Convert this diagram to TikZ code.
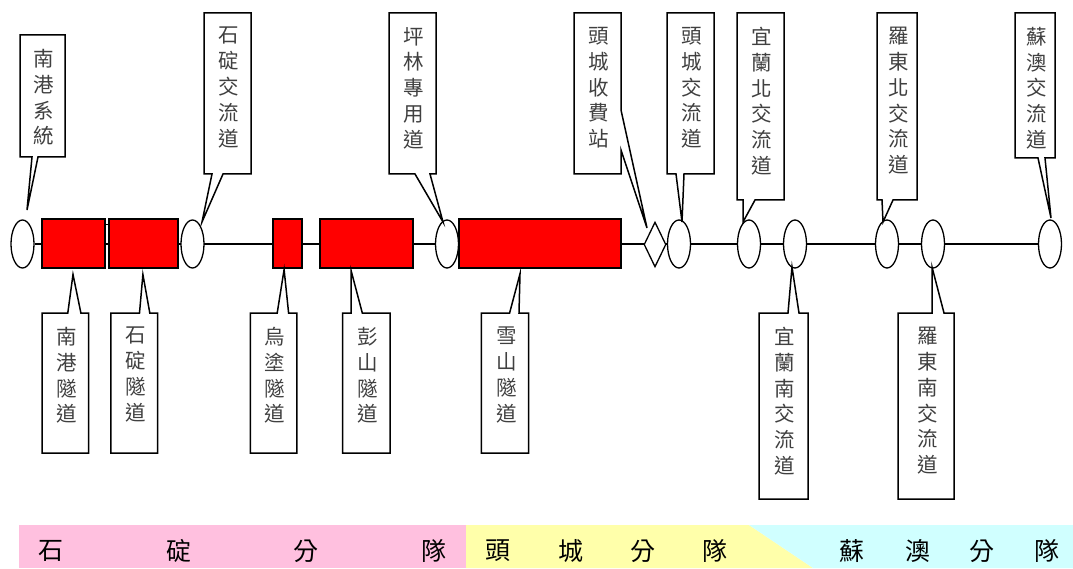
\documentclass[tikz,border=0pt]{standalone}
\usepackage{fontspec}
\newfontfamily\cjk{Noto Sans CJK TC}
\usetikzlibrary{shapes.geometric,backgrounds,calc}
\definecolor{bandpink}{HTML}{FFC0DF}
\definecolor{bandyellow}{HTML}{FFFFAA}
\definecolor{bandcyan}{HTML}{D0FFFF}
\definecolor{calltxt}{HTML}{404040}
\begin{document}
\begin{tikzpicture}[x=1pt,y=-1pt,
  tunnel/.style={draw=black,fill=red,line width=1.3pt,inner sep=0,minimum height=49pt},
  junction/.style={ellipse,draw=black,fill=white,line width=1.3pt,inner sep=0,minimum width=23pt,minimum height=48pt},
  toll/.style={diamond,draw=black,fill=white,line width=1.3pt,inner sep=0,minimum width=22pt,minimum height=45pt},
  callout/.style={draw=black,fill=white,line width=1.5pt,line join=miter},
  calltext/.style={font=\cjk\fontsize{20.5}{25.8}\selectfont,text=calltxt,align=center,inner sep=0,anchor=north},
  bandtext/.style={font=\cjk\fontsize{25}{30}\selectfont,text=black,inner sep=0}]
\useasboundingbox (0,0) rectangle (1073,569);

% tunnels
\node[tunnel,minimum width=63pt]  (b1) at (73.5,243.5) {};
\node[tunnel,minimum width=69pt]  (b2) at (143.5,243.5) {};
\node[tunnel,minimum width=29pt]  (b3) at (287.5,243.5) {};
\node[tunnel,minimum width=93pt]  (b4) at (366.5,243.5) {};
\node[tunnel,minimum width=162pt] (b5) at (540,243.5) {};
\draw[line width=1pt] ($(b1.north east)+(0,6)$) -- ($(b2.north west)+(0,6)$);

% junctions
\foreach \n/\x in {e1/22.5,e2/192.5,e3/447,e4/679,e5/749,e6/795,e7/887,e8/933,e9/1050}
  \node[junction] (\n) at (\x,244) {};
\node[toll] (d1) at (655,244.5) {};

\begin{scope}[on background layer]
  \draw[line width=1.2pt] (e1.east) -- (e9.west);
\end{scope}

% top callouts
\foreach \n/\xa/\xb/\ya/\yb/\ba/\bb/\tx/\ty/\t in {
  t1/20/65/35/157/32/38/27/210/{南\\港\\系\\統},
  t2/204/251/13/174/212/223/202/222/{石\\碇\\交\\流\\道},
  t3/389/436/13/174/415/430/443/222/{坪\\林\\專\\用\\道},
  t5/667/714/13/174/676/684/682/222/{頭\\城\\交\\流\\道},
  t6/737/784/13/200/743/755/743/222/{宜\\蘭\\北\\交\\流\\道},
  t7/877/917/13/200/882/893/883/222/{羅\\東\\北\\交\\流\\道},
  t8/1015/1055/13/158/1038/1045/1051/218/{蘇\\澳\\交\\流\\道}}
{
  \draw[callout] (\xa,\ya) -- (\xb,\ya) -- (\xb,\yb) -- (\bb,\yb) -- (\tx,\ty) -- (\ba,\yb) -- (\xa,\yb) -- cycle;
  \node[calltext] (\n) at ({(\xa+\xb)/2+1.5},{\ya+14}) {\t};
}
% toll plaza callout
\draw[callout] (574,13) -- (621,13) -- (621,110) -- (647,228) -- (621,150) -- (621,174) -- (574,174) -- cycle;
\node[calltext] (t4) at (599,27) {頭\\城\\收\\費\\站};

% bottom callouts
\foreach \n/\xa/\xb/\ya/\yb/\ba/\bb/\tx/\ty/\t in {
  u1/42/88.5/313/453/67.8/80.9/73/274.5/{南\\港\\隧\\道},
  u2/110.9/157.7/313/453/139.5/149.8/142.9/274.5/{石\\碇\\隧\\道},
  u3/250.3/296.8/313/453/277.2/288.6/284.1/269.6/{烏\\塗\\隧\\道},
  u4/342.6/390.2/313/453/351.2/362.3/351.2/271/{彭\\山\\隧\\道},
  u5/481.4/528.6/313/453/509.6/519/520/273.8/{雪\\山\\隧\\道},
  u6/759/808/313/499/788/799/792/267/{宜\\蘭\\南\\交\\流\\道},
  u7/898/954/313/499/932/944/932/267/{羅\\東\\南\\交\\流\\道}}
{
  \draw[callout] (\xa,\yb) -- (\xb,\yb) -- (\xb,\ya) -- (\bb,\ya) -- (\tx,\ty) -- (\ba,\ya) -- (\xa,\ya) -- cycle;
  \node[calltext] (\n) at ({(\xa+\xb)/2+1.5},{\ya+14}) {\t};
}

% division band
\fill[bandpink] (19,525) -- (466,525) -- (466,568) -- (19,568) -- cycle;
\fill[bandyellow] (466,525) -- (749,525) -- (813,568) -- (466,568) -- cycle;
\fill[bandcyan] (749,525) -- (1073,525) -- (1073,568) -- (813,568) -- cycle;
\foreach \n/\x/\t in {s1/51/石,s2/179/碇,s3/306/分,s4/434/隊,
                     h1/498/頭,h2/571/城,h3/643/分,h4/715/隊,
                     a1/852/蘇,a2/918/澳,a3/982/分,a4/1047/隊}
  \node[bandtext] (\n) at (\x,551) {\t};
\end{tikzpicture}
\end{document}
